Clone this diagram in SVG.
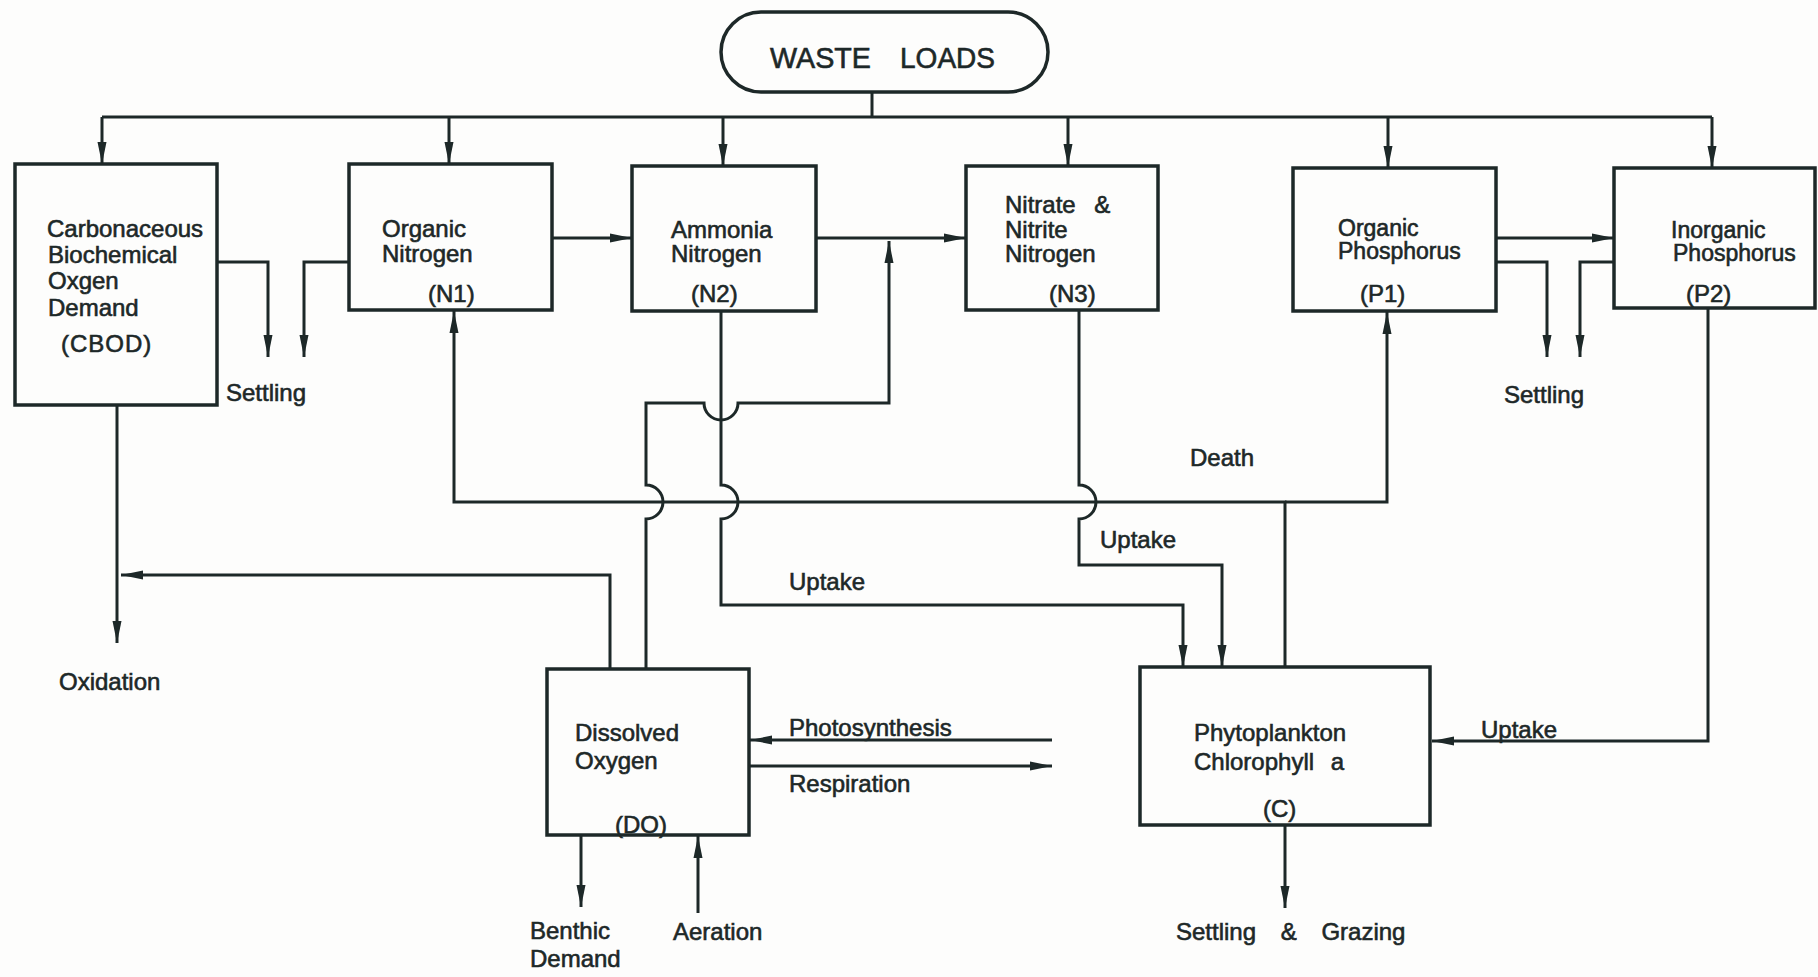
<svg xmlns="http://www.w3.org/2000/svg" width="1818" height="977" viewBox="0 0 1818 977">
<defs>
<marker id="ah" viewBox="0 0 22 10" refX="22" refY="5" markerWidth="22" markerHeight="10" markerUnits="userSpaceOnUse" orient="auto">
<path d="M0,0.5 L22,5 L0,9.5 Z" fill="#1d2828"/>
</marker>
<style>
.bx{fill:none;stroke:#1d2828;stroke-width:3.5}
.ln{fill:none;stroke:#1d2828;stroke-width:3}
.ar{fill:none;stroke:#1d2828;stroke-width:3;marker-end:url(#ah)}
text{font-family:"Liberation Sans",Arial,sans-serif;font-size:24px;fill:#1d2828;stroke:#1d2828;stroke-width:0.6}
.big{font-size:29px}
.p{font-size:23px}
</style>
</defs>
<rect width="1818" height="977" fill="#fdfdfc"/>

<g id="connectors">
<path class="ln" d="M872,92 V117"/>
<path class="ln" d="M102,117 H1712"/>
<path class="ar" d="M102,117 V164"/>
<path class="ar" d="M449,117 V164"/>
<path class="ar" d="M723,117 V166"/>
<path class="ar" d="M1068,117 V166"/>
<path class="ar" d="M1388,117 V168"/>
<path class="ar" d="M1712,117 V168"/>
<path class="ar" d="M552,238 H632"/>
<path class="ar" d="M816,238 H966"/>
<path class="ar" d="M1496,238 H1614"/>
<path class="ar" d="M217,262 H268 V357"/>
<path class="ar" d="M349,262 H304 V357"/>
<path class="ar" d="M1496,262 H1547 V357"/>
<path class="ar" d="M1614,262 H1580 V357"/>
<path class="ar" d="M117,405 V643"/>
<path class="ar" d="M610,669 V575 H121"/>
<path class="ar" d="M646,669 V519 A17,17 0 0 0 646,485 V403 H704 A17,17 0 0 0 738,403 H889 V241"/>
<path class="ar" d="M721,311 V485 A17,17 0 0 1 721,519 V605 H1183 V667"/>
<path class="ar" d="M1079,310 V485 A17,17 0 0 1 1079,519 V565 H1222 V667"/>
<path class="ar" d="M1285,667 V502 H454 V311"/>
<path class="ar" d="M1285,502 H1387 V312"/>
<path class="ar" d="M1708,308 V741 H1432"/>
<path class="ar" d="M1052,740 H750"/>
<path class="ar" d="M749,766 H1052"/>
<path class="ar" d="M581,835 V907"/>
<path class="ar" d="M698,913 V836"/>
<path class="ar" d="M1285,825 V908"/>
</g>

<g id="waste-loads">
<rect class="bx" x="721" y="12" width="327" height="80" rx="40" ry="40"/>
<text class="big" x="770" y="68" textLength="101" lengthAdjust="spacingAndGlyphs">WASTE</text>
<text class="big" x="900" y="68" textLength="95" lengthAdjust="spacingAndGlyphs">LOADS</text>
</g>

<g id="cbod">
<rect class="bx" x="15" y="164" width="202" height="241"/>
<text x="47" y="237">Carbonaceous</text>
<text x="48" y="263">Biochemical</text>
<text x="48" y="289">Oxgen</text>
<text x="48" y="316">Demand</text>
<text x="61" y="352" letter-spacing="1">(CBOD)</text>
</g>

<g id="organic-nitrogen">
<rect class="bx" x="349" y="164" width="203" height="146"/>
<text x="382" y="237">Organic</text>
<text x="382" y="262">Nitrogen</text>
<text x="428" y="302">(N1)</text>
</g>

<g id="ammonia-nitrogen">
<rect class="bx" x="632" y="166" width="184" height="145"/>
<text x="671" y="238">Ammonia</text>
<text x="671" y="262">Nitrogen</text>
<text x="691" y="302">(N2)</text>
</g>

<g id="nitrate-nitrogen">
<rect class="bx" x="966" y="166" width="192" height="144"/>
<text x="1005" y="213" word-spacing="12">Nitrate &amp;</text>
<text x="1005" y="238">Nitrite</text>
<text x="1005" y="262">Nitrogen</text>
<text x="1049" y="302">(N3)</text>
</g>

<g id="organic-phosphorus">
<rect class="bx" x="1293" y="168" width="203" height="143"/>
<text class="p" x="1338" y="236">Organic</text>
<text class="p" x="1338" y="259">Phosphorus</text>
<text x="1360" y="302">(P1)</text>
</g>

<g id="inorganic-phosphorus">
<rect class="bx" x="1614" y="168" width="201" height="140"/>
<text class="p" x="1671" y="238">Inorganic</text>
<text class="p" x="1673" y="261">Phosphorus</text>
<text x="1686" y="302">(P2)</text>
</g>

<g id="dissolved-oxygen">
<rect class="bx" x="547" y="669" width="202" height="166"/>
<text x="575" y="741">Dissolved</text>
<text x="575" y="769">Oxygen</text>
<text x="615" y="833">(DO)</text>
</g>

<g id="phytoplankton">
<rect class="bx" x="1140" y="667" width="290" height="158"/>
<text x="1194" y="741">Phytoplankton</text>
<text x="1194" y="770" word-spacing="10">Chlorophyll a</text>
<text x="1263" y="817">(C)</text>
</g>

<g id="labels">
<text x="226" y="401">Settling</text>
<text x="1504" y="403">Settling</text>
<text x="59" y="690">Oxidation</text>
<text x="1190" y="466">Death</text>
<text x="1100" y="548">Uptake</text>
<text x="789" y="590">Uptake</text>
<text x="1481" y="738">Uptake</text>
<text x="789" y="736">Photosynthesis</text>
<text x="789" y="792">Respiration</text>
<text x="530" y="939">Benthic</text>
<text x="530" y="967">Demand</text>
<text x="673" y="940">Aeration</text>
<text x="1176" y="940" word-spacing="18">Settling &amp; Grazing</text>
</g>
</svg>
